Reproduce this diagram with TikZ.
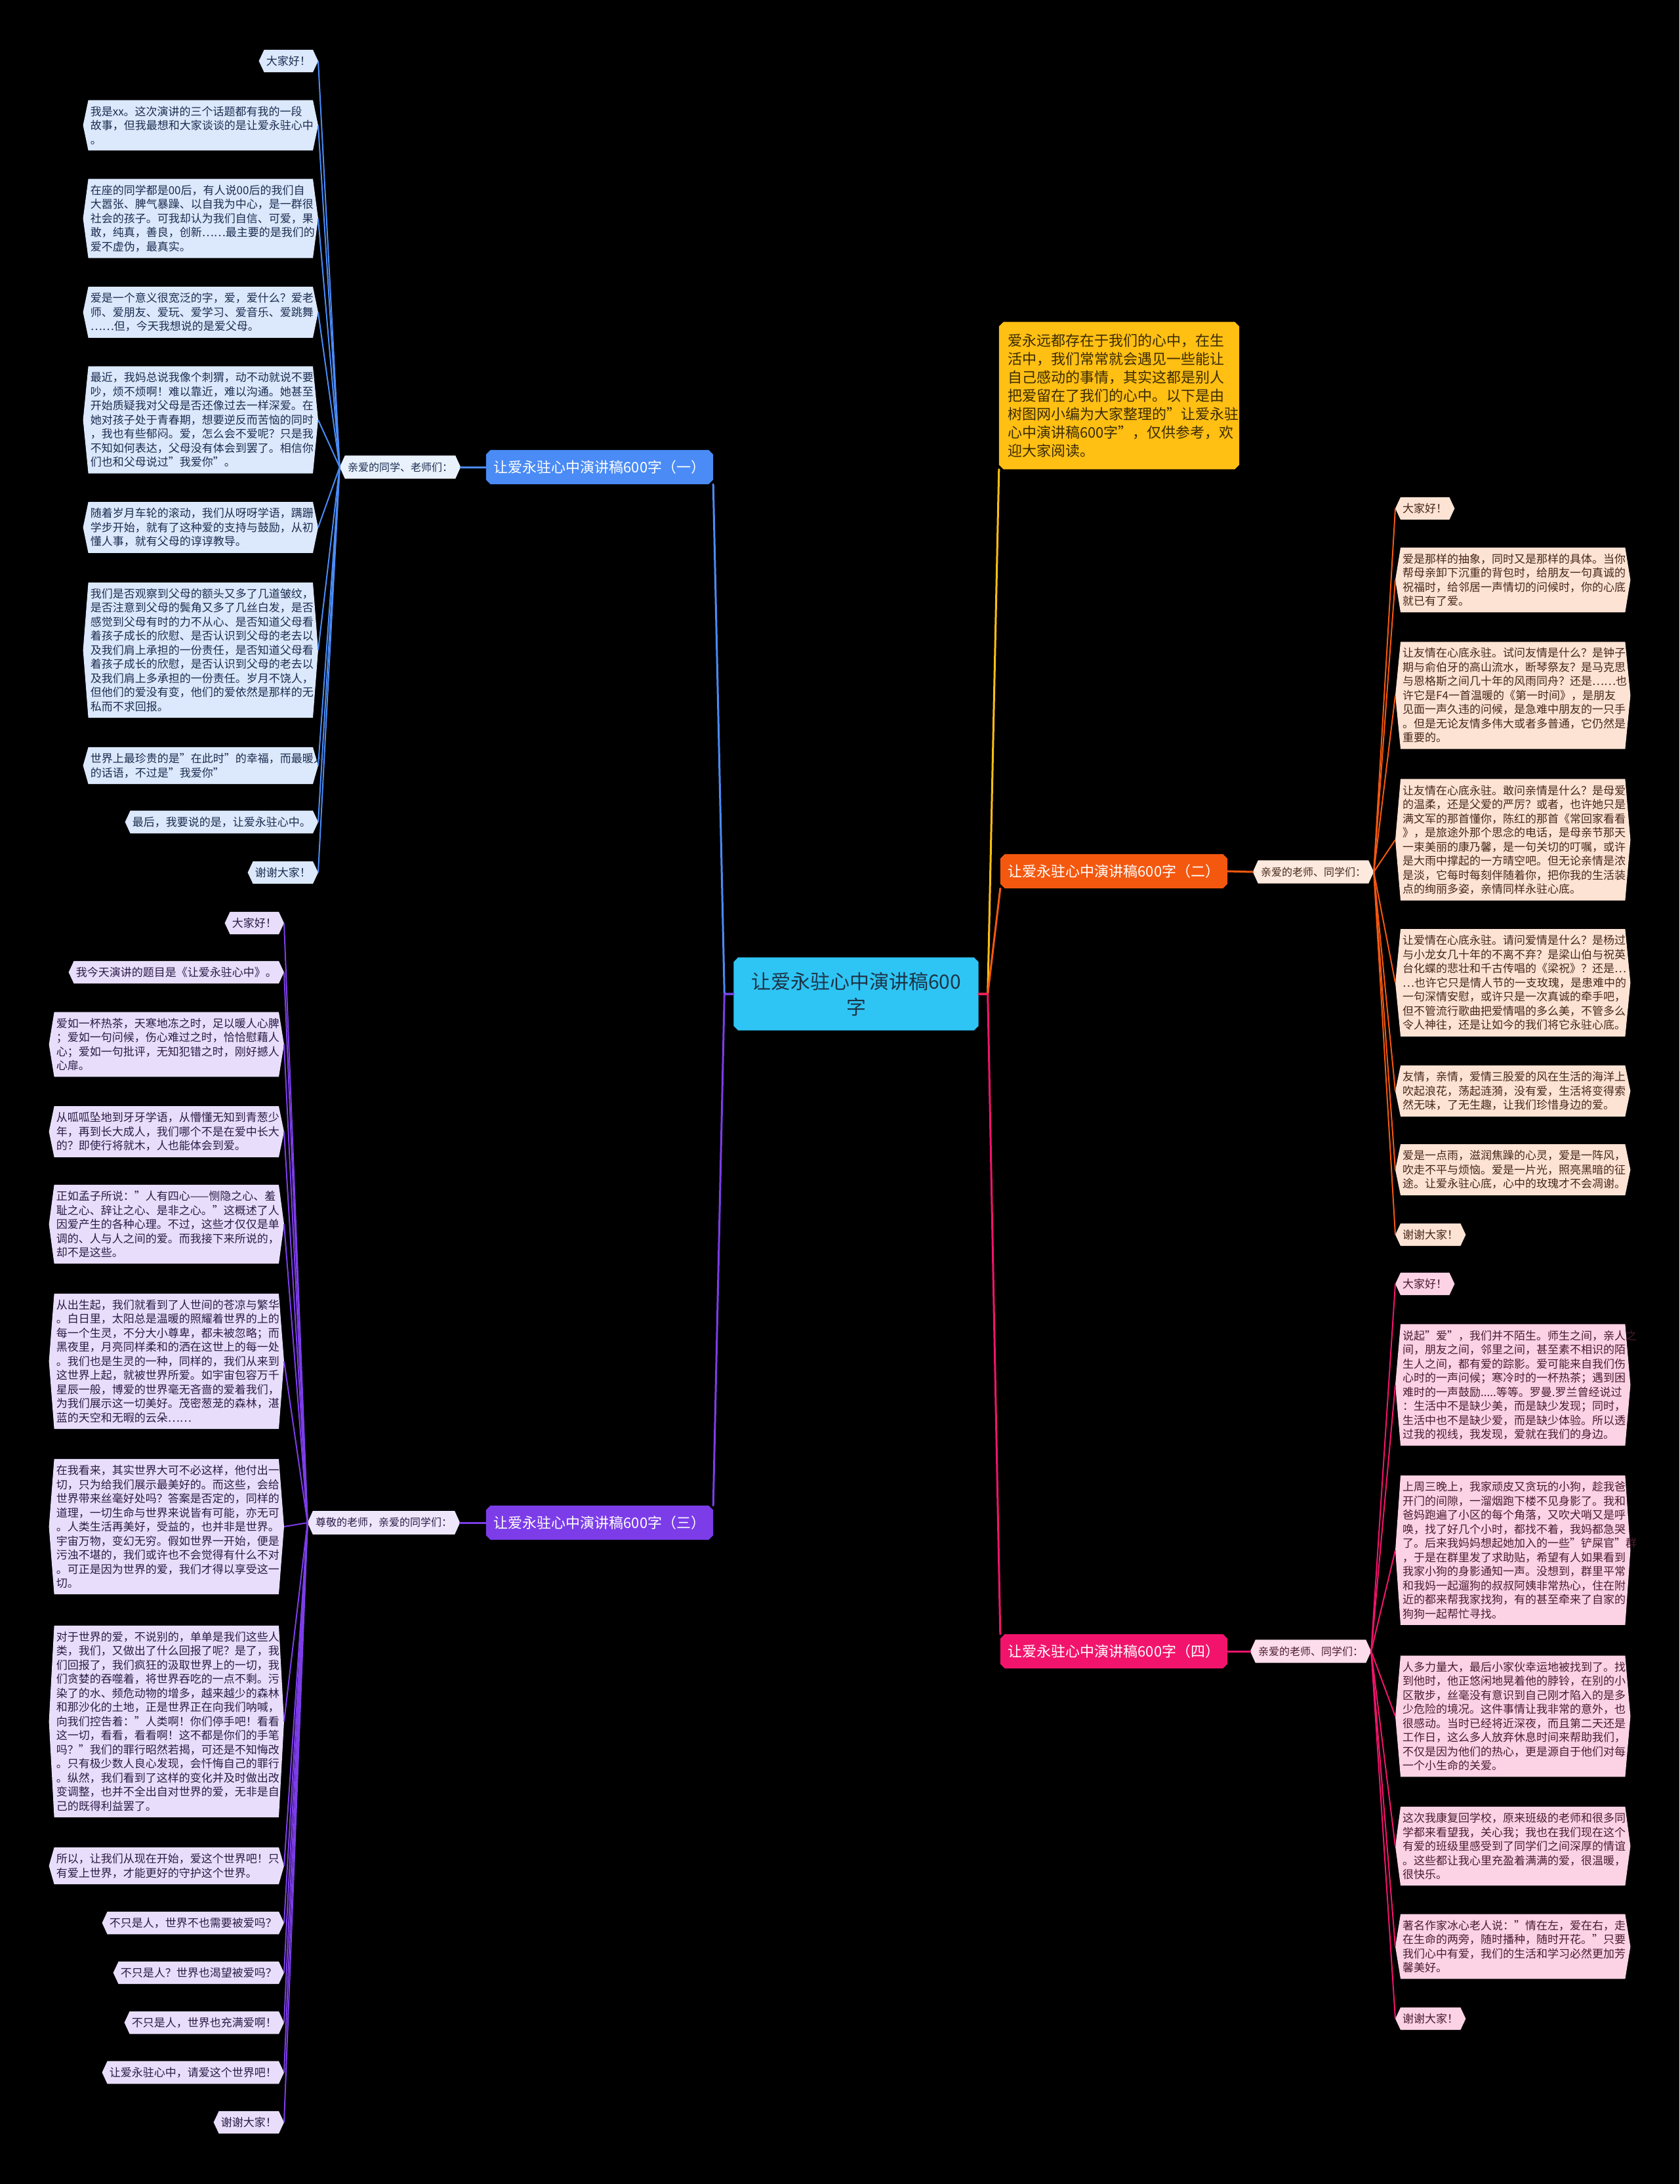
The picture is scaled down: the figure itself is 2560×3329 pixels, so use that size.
\documentclass[tikz,border=0pt]{standalone}
\usepackage{fontspec}
\setmainfont{Noto Sans CJK SC}
\pgfdeclarelayer{background}
\pgfsetlayers{background,main}

\definecolor{cfill}{HTML}{2EC5F5}
\definecolor{ctext}{HTML}{1D3447}
\definecolor{yel}{HTML}{FFBF13}
\definecolor{stext}{HTML}{3B2C05}
\definecolor{br1}{HTML}{4A8BF5}
\definecolor{br2}{HTML}{F4580F}
\definecolor{br3}{HTML}{7C3DE8}
\definecolor{br4}{HTML}{F2146C}
\definecolor{lf1}{HTML}{DCE8FC}
\definecolor{lf2}{HTML}{FDE3D4}
\definecolor{lf3}{HTML}{E8DEFB}
\definecolor{lf4}{HTML}{FCD2E5}
\definecolor{tg1}{HTML}{E9F1FD}
\definecolor{tg2}{HTML}{FDE9DE}
\definecolor{tg3}{HTML}{EEE7FC}
\definecolor{tg4}{HTML}{FDDDEB}
\definecolor{tx1}{HTML}{1B2D4F}
\definecolor{tx2}{HTML}{46271A}
\definecolor{tx3}{HTML}{2B1B45}
\definecolor{tx4}{HTML}{4A1B30}

% pointed ends for leaves, cut corners for topics
\newcommand\hexfill[2]{\fill[#2] (#1.west) -- ([xshift=8pt]#1.north west) -- ([xshift=-8pt]#1.north east) -- (#1.east) -- ([xshift=-8pt]#1.south east) -- ([xshift=8pt]#1.south west) -- cycle;}
\newcommand\octfill[2]{\fill[#2] ([xshift=7pt]#1.north west) -- ([xshift=-7pt]#1.north east) -- ([yshift=-7pt]#1.north east) -- ([yshift=7pt]#1.south east) -- ([xshift=-7pt]#1.south east) -- ([xshift=7pt]#1.south west) -- ([yshift=7pt]#1.south west) -- ([yshift=-7pt]#1.north west) -- cycle;}

\tikzset{
  leaf/.style={inner xsep=11pt, inner ysep=9pt, align=left, font=\fontsize{17}{21.5}\selectfont},
  wide/.style={text width=336pt},
  leaf1/.style={leaf, anchor=east, text=tx1},
  leaf2/.style={leaf, anchor=west, text=tx2},
  leaf3/.style={leaf, anchor=east, text=tx3},
  leaf4/.style={leaf, anchor=west, text=tx4},
  topic/.style={minimum width=346pt, minimum height=52pt, text=white, font=\fontsize{22}{26}\selectfont},
  tag/.style={inner xsep=12pt, inner ysep=10pt, font=\fontsize{16}{20}\selectfont},
  link/.style={line width=3pt, line cap=round},
  twig/.style={line width=2pt},
}

\begin{document}
\begin{tikzpicture}[x=1pt, y=-1pt]
\useasboundingbox (0,0) rectangle (2560,3329);

\node[minimum width=373pt, minimum height=111pt, align=center, text=ctext, font=\fontsize{30}{39}\selectfont] (c) at (1305,1515) {让爱永驻心中演讲稿600\\字};

\node[text width=340pt, inner xsep=13pt, inner ysep=18pt, align=left, text=stext, font=\fontsize{22}{28}\selectfont] (sum) at (1706,603) {爱永远都存在于我们的心中，在生\\活中，我们常常就会遇见一些能让\\自己感动的事情，其实这都是别人\\把爱留在了我们的心中。以下是由\\树图网小编为大家整理的"让爱永驻\\心中演讲稿600字"，仅供参考，欢\\迎大家阅读。};

% branch one
\node[topic] (b1) at (914,712) {让爱永驻心中演讲稿600字（一）};
\node[tag, text=tx1] (s1) at (610,712) {亲爱的同学、老师们：};
\node[leaf1] (b1a) at (485,93) {大家好！};
\node[leaf1, wide] (b1b) at (485,191) {我是xx。这次演讲的三个话题都有我的一段\\故事，但我最想和大家谈谈的是让爱永驻心中\\。};
\node[leaf1, wide] (b1c) at (485,333) {在座的同学都是00后，有人说00后的我们自\\大嚣张、脾气暴躁、以自我为中心，是一群很\\社会的孩子。可我却认为我们自信、可爱，果\\敢，纯真，善良，创新……最主要的是我们的\\爱不虚伪，最真实。};
\node[leaf1, wide] (b1d) at (485,476) {爱是一个意义很宽泛的字，爱，爱什么？爱老\\师、爱朋友、爱玩、爱学习、爱音乐、爱跳舞\\……但，今天我想说的是爱父母。};
\node[leaf1, wide] (b1e) at (485,640) {最近，我妈总说我像个刺猬，动不动就说不要\\吵，烦不烦啊！难以靠近，难以沟通。她甚至\\开始质疑我对父母是否还像过去一样深爱。在\\她对孩子处于青春期，想要逆反而苦恼的同时\\，我也有些郁闷。爱，怎么会不爱呢？只是我\\不知如何表达，父母没有体会到罢了。相信你\\们也和父母说过"我爱你"。};
\node[leaf1, wide] (b1f) at (485,804) {随着岁月车轮的滚动，我们从呀呀学语，蹒跚\\学步开始，就有了这种爱的支持与鼓励，从初\\懂人事，就有父母的谆谆教导。};
\node[leaf1, wide] (b1g) at (485,991) {我们是否观察到父母的额头又多了几道皱纹，\\是否注意到父母的鬓角又多了几丝白发，是否\\感觉到父母有时的力不从心、是否知道父母看\\着孩子成长的欣慰、是否认识到父母的老去以\\及我们肩上承担的一份责任，是否知道父母看\\着孩子成长的欣慰，是否认识到父母的老去以\\及我们肩上多承担的一份责任。岁月不饶人，\\但他们的爱没有变，他们的爱依然是那样的无\\私而不求回报。};
\node[leaf1, wide] (b1h) at (485,1167) {世界上最珍贵的是"在此时"的幸福，而最暖人\\的话语，不过是"我爱你"};
\node[leaf1] (b1i) at (485,1253) {最后，我要说的是，让爱永驻心中。};
\node[leaf1] (b1j) at (485,1330) {谢谢大家！};

% branch three
\node[topic] (b3) at (914,2321) {让爱永驻心中演讲稿600字（三）};
\node[tag, text=tx3] (s3) at (585,2321) {尊敬的老师，亲爱的同学们：};
\node[leaf3] (b3a) at (433,1407) {大家好！};
\node[leaf3] (b3b) at (433,1482) {我今天演讲的题目是《让爱永驻心中》。};
\node[leaf3, wide] (b3c) at (433,1592) {爱如一杯热茶，天寒地冻之时，足以暖人心脾\\；爱如一句问候，伤心难过之时，恰恰慰藉人\\心；爱如一句批评，无知犯错之时，刚好撼人\\心扉。};
\node[leaf3, wide] (b3d) at (433,1725) {从呱呱坠地到牙牙学语，从懵懂无知到青葱少\\年，再到长大成人，我们哪个不是在爱中长大\\的？即使行将就木，人也能体会到爱。};
\node[leaf3, wide] (b3e) at (433,1866) {\mbox{正如孟子所说："人有四心——恻隐之心、羞}\\耻之心、辞让之心、是非之心。"这概述了人\\因爱产生的各种心理。不过，这些才仅仅是单\\调的、人与人之间的爱。而我接下来所说的，\\却不是这些。};
\node[leaf3, wide] (b3f) at (433,2075) {从出生起，我们就看到了人世间的苍凉与繁华\\。白日里，太阳总是温暖的照耀着世界的上的\\每一个生灵，不分大小尊卑，都未被忽略；而\\黑夜里，月亮同样柔和的洒在这世上的每一处\\。我们也是生灵的一种，同样的，我们从来到\\这世界上起，就被世界所爱。如宇宙包容万千\\星辰一般，博爱的世界毫无吝啬的爱着我们，\\为我们展示这一切美好。茂密葱茏的森林，湛\\蓝的天空和无暇的云朵……};
\node[leaf3, wide] (b3g) at (433,2327) {在我看来，其实世界大可不必这样，他付出一\\切，只为给我们展示最美好的。而这些，会给\\世界带来丝毫好处吗？答案是否定的，同样的\\道理，一切生命与世界来说皆有可能，亦无可\\。人类生活再美好，受益的，也并非是世界。\\宇宙万物，变幻无穷。假如世界一开始，便是\\污浊不堪的，我们或许也不会觉得有什么不对\\。可正是因为世界的爱，我们才得以享受这一\\切。};
\node[leaf3, wide] (b3h) at (433,2624) {对于世界的爱，不说别的，单单是我们这些人\\类，我们，又做出了什么回报了呢？是了，我\\们回报了，我们疯狂的汲取世界上的一切，我\\们贪婪的吞噬着，将世界吞吃的一点不剩。污\\染了的水、频危动物的增多，越来越少的森林\\和那沙化的土地，正是世界正在向我们呐喊，\\向我们控告着："人类啊！你们停手吧！看看\\这一切，看看，看看啊！这不都是你们的手笔\\吗？"我们的罪行昭然若揭，可还是不知悔改\\。只有极少数人良心发现，会忏悔自己的罪行\\。纵然，我们看到了这样的变化并及时做出改\\变调整，也并不全出自对世界的爱，无非是自\\己的既得利益罢了。};
\node[leaf3, wide] (b3i) at (433,2844) {所以，让我们从现在开始，爱这个世界吧！只\\有爱上世界，才能更好的守护这个世界。};
\node[leaf3] (b3j) at (433,2931) {不只是人，世界不也需要被爱吗？};
\node[leaf3] (b3k) at (433,3007) {不只是人？世界也渴望被爱吗？};
\node[leaf3] (b3l) at (433,3083) {不只是人，世界也充满爱啊！};
\node[leaf3] (b3m) at (433,3159) {让爱永驻心中，请爱这个世界吧！};
\node[leaf3] (b3n) at (433,3235) {谢谢大家！};

% branch two
\node[topic] (b2) at (1698,1328) {让爱永驻心中演讲稿600字（二）};
\node[tag, text=tx2] (s2) at (2002,1329) {亲爱的老师、同学们：};
\node[leaf2] (b2a) at (2127,775) {大家好！};
\node[leaf2, wide] (b2b) at (2127,884) {爱是那样的抽象，同时又是那样的具体。当你\\帮母亲卸下沉重的背包时，给朋友一句真诚的\\祝福时，给邻居一声情切的问候时，你的心底\\就已有了爱。};
\node[leaf2, wide] (b2c) at (2127,1060) {让友情在心底永驻。试问友情是什么？是钟子\\期与俞伯牙的高山流水，断琴祭友？是马克思\\与恩格斯之间几十年的风雨同舟？还是……也\\许它是F4一首温暖的《第一时间》，是朋友\\见面一声久违的问候，是急难中朋友的一只手\\。但是无论友情多伟大或者多普通，它仍然是\\重要的。};
\node[leaf2, wide] (b2d) at (2127,1280) {让友情在心底永驻。敢问亲情是什么？是母爱\\的温柔，还是父爱的严厉？或者，也许她只是\\满文军的那首懂你，陈红的那首《常回家看看\\》，是旅途外那个思念的电话，是母亲节那天\\一束美丽的康乃馨，是一句关切的叮嘱，或许\\是大雨中撑起的一方晴空吧。但无论亲情是浓\\是淡，它每时每刻伴随着你，把你我的生活装\\点的绚丽多姿，亲情同样永驻心底。};
\node[leaf2, wide] (b2e) at (2127,1498) {让爱情在心底永驻。请问爱情是什么？是杨过\\与小龙女几十年的不离不弃？是梁山伯与祝英\\台化蝶的悲壮和千古传唱的《梁祝》？还是…\\…也许它只是情人节的一支玫瑰，是患难中的\\一句深情安慰，或许只是一次真诚的牵手吧，\\但不管流行歌曲把爱情唱的多么美，不管多么\\令人神往，还是让如今的我们将它永驻心底。};
\node[leaf2, wide] (b2f) at (2127,1663) {友情，亲情，爱情三股爱的风在生活的海洋上\\吹起浪花，荡起涟漪，没有爱，生活将变得索\\然无味，了无生趣，让我们珍惜身边的爱。};
\node[leaf2, wide] (b2g) at (2127,1783) {爱是一点雨，滋润焦躁的心灵，爱是一阵风，\\吹走不平与烦恼。爱是一片光，照亮黑暗的征\\途。让爱永驻心底，心中的玫瑰才不会凋谢。};
\node[leaf2] (b2h) at (2127,1882) {谢谢大家！};

% branch four
\node[topic] (b4) at (1698,2517) {让爱永驻心中演讲稿600字（四）};
\node[tag, text=tx4] (s4) at (1998,2517) {亲爱的老师、同学们：};
\node[leaf4] (b4a) at (2127,1957) {大家好！};
\node[leaf4, wide] (b4b) at (2127,2111) {说起"爱"，我们并不陌生。师生之间，亲人之\\间，朋友之间，邻里之间，甚至素不相识的陌\\生人之间，都有爱的踪影。爱可能来自我们伤\\心时的一声问候；寒冷时的一杯热茶；遇到困\\难时的一声鼓励.....等等。罗曼.罗兰曾经说过\\：生活中不是缺少美，而是缺少发现；同时，\\生活中也不是缺少爱，而是缺少体验。所以透\\过我的视线，我发现，爱就在我们的身边。};
\node[leaf4, wide] (b4c) at (2127,2363) {上周三晚上，我家顽皮又贪玩的小狗，趁我爸\\开门的间隙，一溜烟跑下楼不见身影了。我和\\爸妈跑遍了小区的每个角落，又吹犬哨又是呼\\唤，找了好几个小时，都找不着，我妈都急哭\\了。后来我妈妈想起她加入的一些"铲屎官"群\\，于是在群里发了求助贴，希望有人如果看到\\我家小狗的身影通知一声。没想到，群里平常\\和我妈一起遛狗的叔叔阿姨非常热心，住在附\\近的都来帮我家找狗，有的甚至牵来了自家的\\狗狗一起帮忙寻找。};
\node[leaf4, wide] (b4d) at (2127,2616) {人多力量大，最后小家伙幸运地被找到了。找\\到他时，他正悠闲地晃着他的脖铃，在别的小\\区散步，丝毫没有意识到自己刚才陷入的是多\\少危险的境况。这件事情让我非常的意外，也\\很感动。当时已经将近深夜，而且第二天还是\\工作日，这么多人放弃休息时间来帮助我们，\\不仅是因为他们的热心，更是源自于他们对每\\一个小生命的关爱。};
\node[leaf4, wide] (b4e) at (2127,2814) {这次我康复回学校，原来班级的老师和很多同\\学都来看望我，关心我；我也在我们现在这个\\有爱的班级里感受到了同学们之间深厚的情谊\\。这些都让我心里充盈着满满的爱，很温暖，\\很快乐。};
\node[leaf4, wide] (b4f) at (2127,2967) {著名作家冰心老人说："情在左，爱在右，走\\在生命的两旁，随时播种，随时开花。"只要\\我们心中有爱，我们的生活和学习必然更加芳\\馨美好。};
\node[leaf4] (b4g) at (2127,3077) {谢谢大家！};

% connectors
\draw[link, br1] (c.west) -- ++(-14,0) -- (b1.south east);
\draw[link, br3] (c.west) -- ++(-14,0) -- (b3.north east);
\draw[link, yel] (c.east) -- ++(14,0) -- (sum.south west);
\draw[link, br2] (c.east) -- ++(14,0) -- (b2.south west);
\draw[link, br4] (c.east) -- ++(14,0) -- (b4.north west);
\draw[link, br1] (b1.west) -- (s1.east);
\draw[link, br3] (b3.west) -- (s3.east);
\draw[link, br2] (b2.east) -- (s2.west);
\draw[link, br4] (b4.east) -- (s4.west);
\foreach \n in {b1a,b1b,b1c,b1d,b1e,b1f,b1g,b1h,b1i,b1j} \draw[twig, br1] (s1.west) -- (\n.east);
\foreach \n in {b3a,b3b,b3c,b3d,b3e,b3f,b3g,b3h,b3i,b3j,b3k,b3l,b3m,b3n} \draw[twig, br3] (s3.west) -- (\n.east);
\foreach \n in {b2a,b2b,b2c,b2d,b2e,b2f,b2g,b2h} \draw[twig, br2] (s2.east) -- (\n.west);
\foreach \n in {b4a,b4b,b4c,b4d,b4e,b4f,b4g} \draw[twig, br4] (s4.east) -- (\n.west);

\begin{pgfonlayer}{background}
\fill[black] (0,0) rectangle (2560,3329);
\octfill{c}{cfill}
\octfill{sum}{yel}
\foreach \n/\col in {b1/br1,b2/br2,b3/br3,b4/br4} {\octfill{\n}{\col}}
\foreach \n/\col in {s1/tg1,s2/tg2,s3/tg3,s4/tg4} {\hexfill{\n}{\col}}
\foreach \n in {b1a,b1b,b1c,b1d,b1e,b1f,b1g,b1h,b1i,b1j} {\hexfill{\n}{lf1}}
\foreach \n in {b3a,b3b,b3c,b3d,b3e,b3f,b3g,b3h,b3i,b3j,b3k,b3l,b3m,b3n} {\hexfill{\n}{lf3}}
\foreach \n in {b2a,b2b,b2c,b2d,b2e,b2f,b2g,b2h} {\hexfill{\n}{lf2}}
\foreach \n in {b4a,b4b,b4c,b4d,b4e,b4f,b4g} {\hexfill{\n}{lf4}}
\end{pgfonlayer}
\end{tikzpicture}
\end{document}
